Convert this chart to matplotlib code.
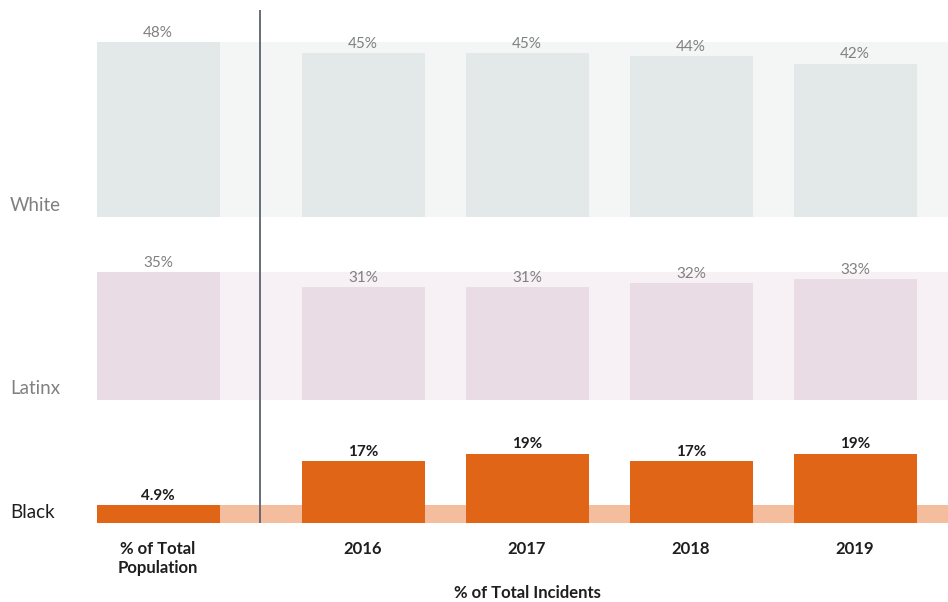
import matplotlib.pyplot as plt

plt.rcParams["font.family"] = ["Lato", "DejaVu Sans"]

groups = ["White", "Latinx", "Black"]
population = [48, 35, 4.9]
pop_labels = ["48%", "35%", "4.9%"]
years = ["2016", "2017", "2018", "2019"]
incidents = {
    "White": [45, 45, 44, 42],
    "Latinx": [31, 31, 32, 33],
    "Black": [17, 19, 17, 19],
}

# row baselines (in % units) so all rows share one scale
offsets = {"White": 83.8, "Latinx": 33.7, "Black": 0}
band_col = {"White": "#f4f6f6", "Latinx": "#f7f1f5", "Black": "#f3bd9e"}
bar_col = {"White": "#e2e9e8", "Latinx": "#eadce4", "Black": "#e06517"}
txt_col = {"White": "#808080", "Latinx": "#808080", "Black": "#1e1e1e"}

pop_x = -1.25
year_x = [0, 1, 2, 3]
w = 0.75
xmin, xmax = -1.622, 3.567

fig = plt.figure(figsize=(9.48, 6.02), dpi=100)
ax = fig.add_axes([97 / 948, 79 / 602, 1 - 97 / 948, (523 - 10) / 602])

for g, p in zip(groups, population):
    b = offsets[g]
    ax.bar((xmin + xmax) / 2, p, width=xmax - xmin, bottom=b, color=band_col[g], zorder=1)
    ax.bar(pop_x, p, width=w, bottom=b, color=bar_col[g], zorder=2)
    ax.bar(year_x, incidents[g], width=w, bottom=b, color=bar_col[g], zorder=2)

for g, p, lab in zip(groups, population, pop_labels):
    b = offsets[g]
    wt = "bold" if g == "Black" else "normal"
    ax.text(pop_x, b + p + 0.6, lab, ha="center", va="bottom", fontsize=11,
            color=txt_col[g], fontweight=wt, zorder=3)
    for x, v in zip(year_x, incidents[g]):
        ax.text(x, b + v + 0.6, f"{v}%", ha="center", va="bottom", fontsize=11,
                color=txt_col[g], fontweight=wt, zorder=3)

ax.axvline(-0.628, color="#5b6270", lw=1.3, zorder=4)

ax.set_xlim(xmin, xmax)
ax.set_ylim(0, 140.5)
ax.set_xticks([pop_x] + year_x)
ax.set_xticklabels(["% of Total\nPopulation"] + years, fontsize=12,
                   color="#1e1e1e", fontweight="bold", va="top")
ax.tick_params(axis="x", length=0, pad=13)
ax.set_yticks([])
for s in ax.spines.values():
    s.set_visible(False)

fig.text(527 / 948, 1 - 593 / 602, "% of Total Incidents", ha="center", va="center",
         fontsize=12, fontweight="bold", color="#1e1e1e")

label_y = {"White": 205, "Latinx": 388, "Black": 512}
for g in groups:
    fig.text(10 / 948, 1 - label_y[g] / 602, g, ha="left", va="center",
             fontsize=13.5, color=txt_col[g])

fig.savefig("out.png", dpi=100)
